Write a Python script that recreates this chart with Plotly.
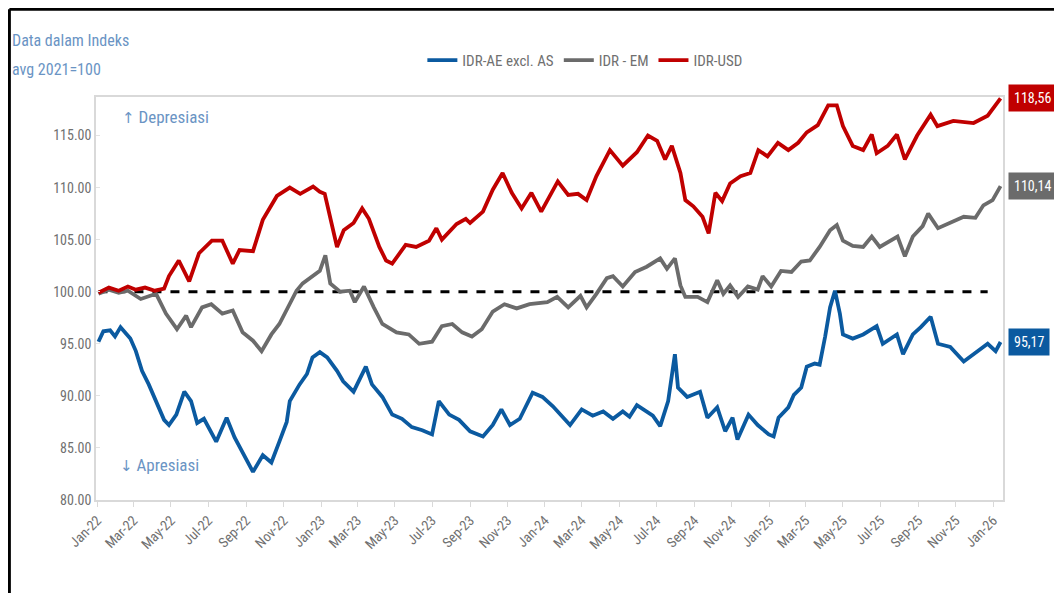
import plotly.graph_objects as go

# ---------------- data ----------------
usd_dates = ["2022-01-03","2022-01-20","2022-02-05","2022-02-20","2022-03-05","2022-03-20","2022-04-05","2022-04-20",
             "2022-04-28","2022-05-14","2022-05-31","2022-06-16","2022-07-07","2022-07-24","2022-08-10","2022-08-21",
             "2022-09-12","2022-09-28","2022-10-21","2022-11-11","2022-11-28","2022-12-19","2022-12-30","2023-01-07",
             "2023-01-27","2023-02-07","2023-02-23","2023-03-09","2023-03-20","2023-04-06","2023-04-17","2023-04-27",
             "2023-05-19","2023-06-05","2023-06-26","2023-07-08","2023-07-17","2023-08-10","2023-08-25","2023-09-01",
             "2023-09-22","2023-10-08","2023-10-24","2023-11-08","2023-11-24","2023-12-10","2023-12-26","2024-01-22",
             "2024-02-08","2024-02-24","2024-03-09","2024-03-25","2024-04-16","2024-05-07","2024-05-30","2024-06-17",
             "2024-07-02","2024-07-15","2024-07-26","2024-08-09","2024-08-17","2024-08-30","2024-09-14","2024-09-24",
             "2024-10-05","2024-10-16","2024-10-29","2024-11-15","2024-12-01","2024-12-14","2024-12-29","2025-01-15",
             "2025-02-01","2025-02-17","2025-03-03","2025-03-21","2025-04-07","2025-04-21","2025-05-01","2025-05-17",
             "2025-06-03","2025-06-17","2025-06-25","2025-07-13","2025-07-28","2025-08-10","2025-08-30","2025-09-21",
             "2025-10-02","2025-10-28","2025-11-30","2025-12-23","2026-01-13"]
usd_vals = [99.9,100.4,100.1,100.5,100.2,100.4,100.1,100.3,
            101.5,103.0,101.0,103.7,104.9,104.9,102.7,104.0,
            103.9,106.9,109.2,110.0,109.4,110.1,109.6,109.4,
            104.3,105.9,106.6,108.0,107.0,104.3,103.0,102.7,
            104.5,104.3,104.9,106.1,105.0,106.5,107.0,106.6,
            107.7,109.8,111.4,109.5,108.0,109.5,107.7,110.6,
            109.3,109.4,108.8,111.1,113.6,112.1,113.4,115.0,
            114.5,112.7,114.0,111.4,108.8,108.2,107.2,105.6,
            109.5,108.7,110.4,111.1,111.4,113.6,113.0,114.3,
            113.6,114.3,115.3,116.0,117.9,117.9,115.9,114.0,
            113.6,115.1,113.3,114.0,115.1,112.7,115.0,117.0,
            115.9,116.4,116.2,116.9,118.56]

em_dates = ["2022-01-03","2022-01-20","2022-02-05","2022-02-20","2022-03-13","2022-04-07","2022-04-23","2022-05-11",
            "2022-05-26","2022-06-03","2022-06-21","2022-07-06","2022-07-24","2022-08-10","2022-08-26","2022-09-12",
            "2022-09-26","2022-10-12","2022-10-25","2022-11-11","2022-11-22","2022-12-02","2022-12-18","2022-12-30",
            "2023-01-08","2023-01-16","2023-02-01","2023-02-17","2023-02-25","2023-03-12","2023-03-28","2023-04-11",
            "2023-05-04","2023-05-24","2023-06-10","2023-07-01","2023-07-17","2023-08-03","2023-08-19","2023-09-04",
            "2023-09-20","2023-10-08","2023-10-27","2023-11-16","2023-12-07","2024-01-05","2024-01-21","2024-02-08",
            "2024-02-28","2024-03-09","2024-03-25","2024-04-11","2024-04-21","2024-05-07","2024-05-27","2024-06-15",
            "2024-07-07","2024-07-18","2024-07-31","2024-08-09","2024-08-17","2024-09-06","2024-09-22","2024-10-08",
            "2024-10-18","2024-10-29","2024-11-11","2024-11-27","2024-12-13","2024-12-21","2025-01-04","2025-01-20",
            "2025-02-06","2025-02-22","2025-03-08","2025-03-24","2025-04-10","2025-04-21","2025-05-01","2025-05-17",
            "2025-06-03","2025-06-17","2025-06-30","2025-07-16","2025-07-29","2025-08-10","2025-08-23","2025-09-08",
            "2025-09-17","2025-10-03","2025-10-23","2025-11-14","2025-12-03","2025-12-16","2025-12-31","2026-01-13"]
em_vals = [99.8,100.2,99.9,100.1,99.3,99.8,97.9,96.4,
           97.7,96.6,98.5,98.8,97.9,98.2,96.1,95.3,
           94.3,95.9,96.9,98.8,100.1,100.8,101.5,102.0,
           103.5,100.8,100.0,100.1,99.0,100.5,98.5,96.9,
           96.1,95.9,95.0,95.2,96.7,96.9,96.1,95.7,
           96.4,98.1,98.8,98.4,98.8,99.0,99.5,98.5,
           99.6,98.5,99.8,101.3,101.5,100.5,101.9,102.4,
           103.2,102.2,103.2,100.6,99.5,99.5,99.0,101.1,
           99.8,100.6,99.5,100.5,100.2,101.5,100.5,102.0,
           101.9,102.9,103.0,104.3,105.9,106.4,104.9,104.4,
           104.3,105.3,104.3,104.9,105.3,103.4,105.3,106.3,
           107.5,106.1,106.6,107.2,107.1,108.3,108.8,110.14]

ae_dates = ["2022-01-03","2022-01-11","2022-01-22","2022-01-30","2022-02-08","2022-02-24","2022-03-05","2022-03-15",
            "2022-03-26","2022-04-07","2022-04-20","2022-04-28","2022-05-10","2022-05-23","2022-06-03","2022-06-13",
            "2022-06-24","2022-07-14","2022-07-31","2022-08-13","2022-08-30","2022-09-12","2022-09-28","2022-10-12",
            "2022-10-25","2022-11-06","2022-11-11","2022-11-27","2022-12-09","2022-12-18","2022-12-30","2023-01-11",
            "2023-01-27","2023-02-06","2023-02-23","2023-03-04","2023-03-15","2023-03-25","2023-04-11","2023-04-27",
            "2023-05-13","2023-05-29","2023-06-15","2023-07-01","2023-07-12","2023-07-29","2023-08-14","2023-09-01",
            "2023-09-22","2023-10-08","2023-10-22","2023-11-05","2023-11-21","2023-12-12","2023-12-28","2024-01-14",
            "2024-02-11","2024-03-01","2024-03-19","2024-04-05","2024-04-21","2024-05-07","2024-05-18","2024-05-30",
            "2024-06-25","2024-07-07","2024-07-20","2024-07-31","2024-08-05","2024-08-20","2024-08-30","2024-09-10",
            "2024-09-22","2024-10-08","2024-10-21","2024-11-02","2024-11-10","2024-11-28","2024-12-13","2024-12-31",
            "2025-01-08","2025-01-16","2025-02-01","2025-02-10","2025-02-22","2025-03-03","2025-03-16","2025-03-24",
            "2025-04-02","2025-04-10","2025-04-18","2025-04-26","2025-05-01","2025-05-17","2025-06-03","2025-06-25",
            "2025-07-05","2025-07-28","2025-08-07","2025-08-23","2025-09-05","2025-09-21","2025-10-03","2025-10-23",
            "2025-11-14","2025-12-06","2025-12-23","2026-01-05","2026-01-13"]
ae_vals = [95.2,96.2,96.3,95.7,96.6,95.5,94.3,92.4,
           91.1,89.5,87.7,87.2,88.2,90.4,89.5,87.4,
           87.8,85.6,87.9,86.0,84.1,82.7,84.3,83.6,
           85.6,87.5,89.5,91.1,92.1,93.7,94.2,93.7,
           92.4,91.4,90.4,91.4,92.8,91.1,89.9,88.2,
           87.8,87.0,86.7,86.3,89.5,88.2,87.7,86.6,
           86.1,87.2,88.7,87.2,87.8,90.3,89.9,89.0,
           87.2,88.7,88.1,88.5,87.8,88.5,88.0,89.1,
           88.1,87.1,89.5,94.0,90.8,89.9,90.1,90.4,
           87.9,88.9,86.6,87.9,85.8,88.2,87.2,86.3,
           86.1,87.9,88.9,90.1,90.8,92.8,93.1,93.0,
           95.7,98.5,100.1,97.9,95.9,95.5,95.9,96.7,
           95.0,95.9,94.0,95.9,96.6,97.6,95.0,94.7,
           93.3,94.3,95.0,94.3,95.17]

baseline_value = 100
baseline_dates = ["2022-01-03", "2025-12-23"]

series_names = ["IDR-AE excl. AS", "IDR - EM", "IDR-USD"]
end_labels = ["95,17", "110,14", "118,56"]
y_ticks = [80, 85, 90, 95, 100, 105, 110, 115]
x_ticks = ["2022-01-01","2022-03-01","2022-05-01","2022-07-01","2022-09-01","2022-11-01",
           "2023-01-01","2023-03-01","2023-05-01","2023-07-01","2023-09-01","2023-11-01",
           "2024-01-01","2024-03-01","2024-05-01","2024-07-01","2024-09-01","2024-11-01",
           "2025-01-01","2025-03-01","2025-05-01","2025-07-01","2025-09-01","2025-11-01",
           "2026-01-01"]

# ---------------- style ----------------
C_BLUE = "#0b5aa0"
C_GRAY = "#6b6b6b"
C_RED = "#c00000"
FONT = "Liberation Sans Narrow, Roboto Condensed, Arial Narrow, Roboto, sans-serif"
TXT = "#707070"
LBL = "#6a94c4"

fig = go.Figure()
fig.add_trace(go.Scatter(x=baseline_dates, y=[baseline_value] * len(baseline_dates), mode="lines",
                         line=dict(color="black", width=3, dash="dash"), showlegend=False, hoverinfo="skip"))
fig.add_trace(go.Scatter(x=ae_dates, y=ae_vals, mode="lines", name=series_names[0],
                         line=dict(color=C_BLUE, width=3.8)))
fig.add_trace(go.Scatter(x=em_dates, y=em_vals, mode="lines", name=series_names[1],
                         line=dict(color=C_GRAY, width=3.8)))
fig.add_trace(go.Scatter(x=usd_dates, y=usd_vals, mode="lines", name=series_names[2],
                         line=dict(color=C_RED, width=3.8)))

# end-value boxes
for lab, val, col in zip(end_labels, [ae_vals[-1], em_vals[-1], usd_vals[-1]], [C_BLUE, C_GRAY, C_RED]):
    fig.add_annotation(xref="paper", yref="y", x=1.0055, y=val, text=lab, showarrow=False,
                       xanchor="left", yanchor="middle", bgcolor=col,
                       font=dict(family=FONT, size=14, color="white"), borderpad=5)

fig.add_annotation(xref="paper", yref="paper", x=0.026, y=0.95,
                   text="<span style='font-family:DejaVu Sans;font-size:15px'>↑</span> Depresiasi",
                   showarrow=False, xanchor="left", yanchor="middle",
                   font=dict(family=FONT, size=17, color=LBL))
fig.add_annotation(xref="paper", yref="paper", x=0.024, y=0.087,
                   text="<span style='font-family:DejaVu Sans;font-size:15px'>↓</span> Apresiasi",
                   showarrow=False, xanchor="left", yanchor="middle",
                   font=dict(family=FONT, size=17, color=LBL))
fig.add_annotation(xref="paper", yref="paper", x=-0.095, y=1.141, text="Data dalam Indeks", showarrow=False,
                   xanchor="left", yanchor="middle", font=dict(family=FONT, size=16, color=LBL))
fig.add_annotation(xref="paper", yref="paper", x=-0.095, y=1.067, text="avg 2021=100", showarrow=False,
                   xanchor="left", yanchor="middle", font=dict(family=FONT, size=16, color=LBL))

# outer black frame (left and top edges visible)
fig.add_shape(type="line", xref="paper", yref="paper", x0=-0.0955, x1=-0.0955, y0=-0.3, y1=1.218,
              line=dict(color="black", width=3))
fig.add_shape(type="line", xref="paper", yref="paper", x0=-0.0955, x1=1.2, y0=1.218, y1=1.218,
              line=dict(color="black", width=3))

fig.update_layout(
    width=1054, height=585,
    margin=dict(l=88, r=59, t=89, b=93),
    paper_bgcolor="white", plot_bgcolor="white",
    font=dict(family=FONT, size=14, color=TXT),
    legend=dict(orientation="h", x=0.539, xanchor="center", y=1.091, yanchor="middle",
                font=dict(family=FONT, size=15, color=TXT), itemwidth=30, tracegroupgap=0,
                bgcolor="rgba(0,0,0,0)"),
    showlegend=True,
)
fig.update_xaxes(type="date", range=["2021-12-30", "2026-01-17"], tickvals=x_ticks, tickformat="%b-%y",
                 tickangle=-45, showgrid=False, showline=True, linecolor="#d9d9d9", linewidth=1.5,
                 mirror=True, ticks="outside", ticklen=5, tickcolor="#d9d9d9",
                 tickfont=dict(family=FONT, size=14, color=TXT), zeroline=False)
fig.update_yaxes(range=[80, 118.7], tickvals=y_ticks, tickformat=".2f", showgrid=False,
                 showline=True, linecolor="#d9d9d9", linewidth=1.5, mirror=True,
                 ticks="inside", ticklen=4, tickcolor="#e3e3e3",
                 tickfont=dict(family=FONT, size=14, color=TXT), zeroline=False)

fig.write_html("out.html")
